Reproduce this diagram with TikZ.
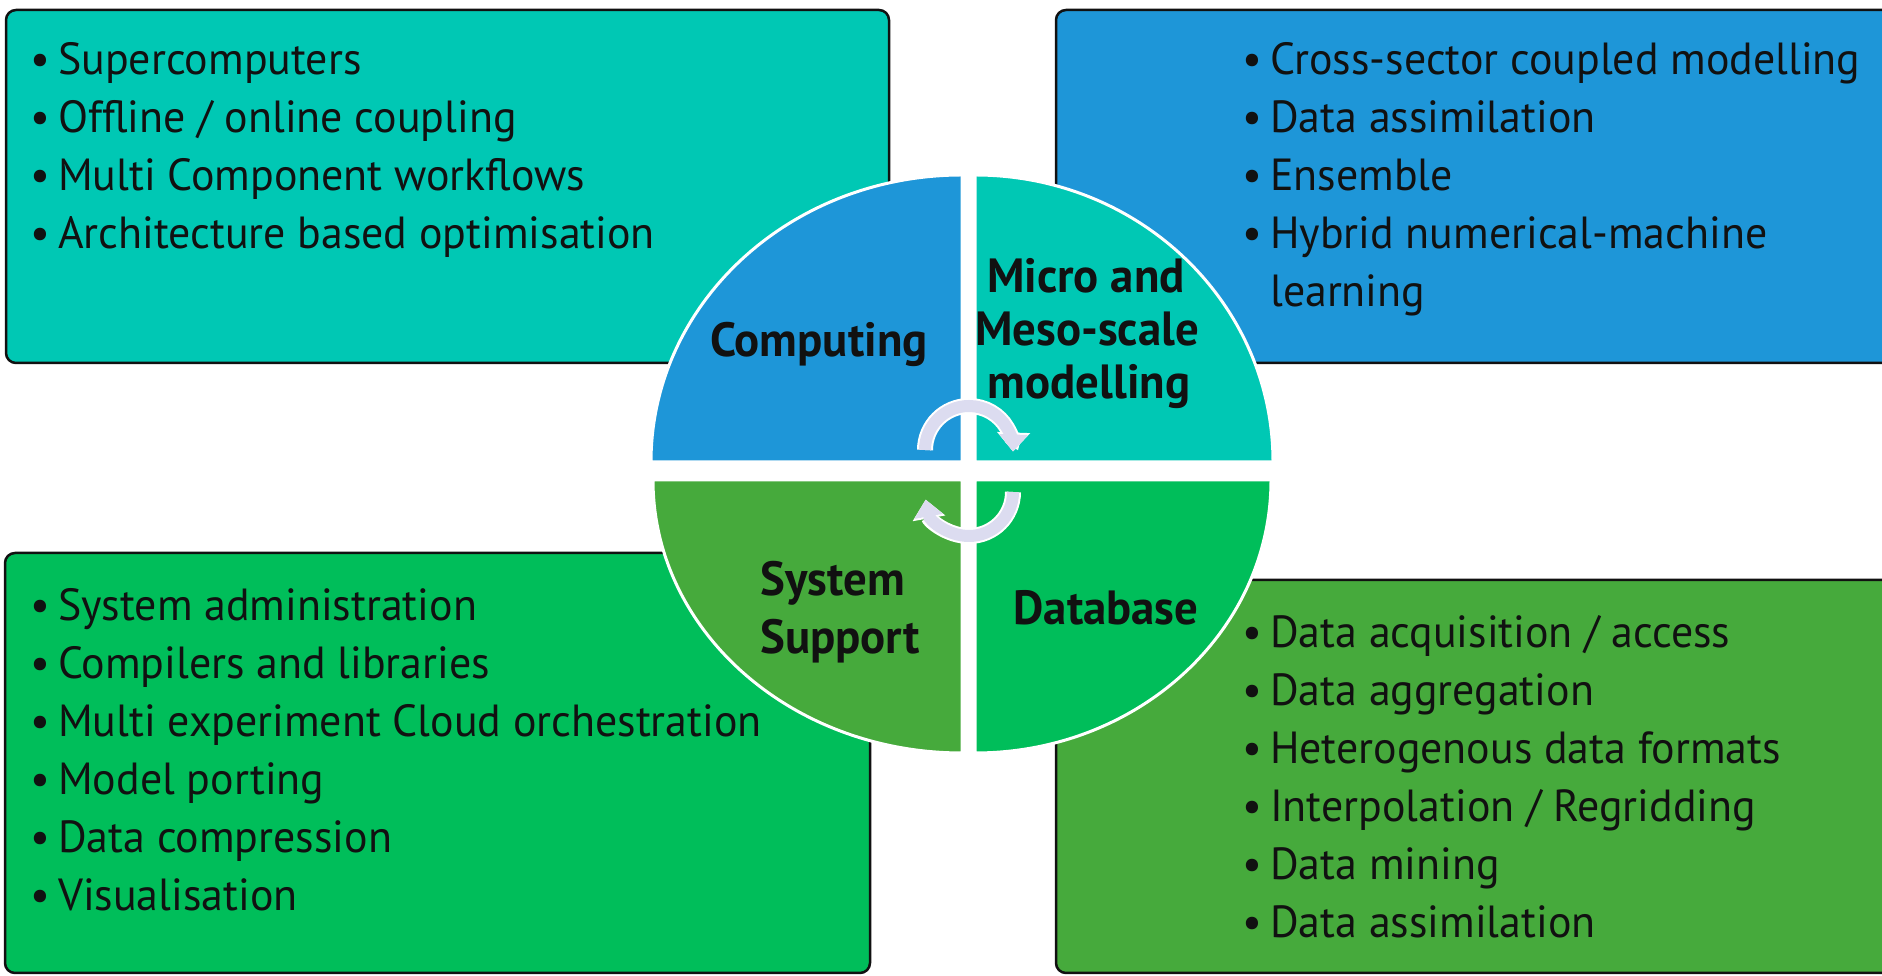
\documentclass[tikz,border=0pt]{standalone}
\usepackage{fontspec}
\setmainfont{PT Sans}[FakeStretch=0.975]
\usetikzlibrary{arrows.meta}

\definecolor{tealfill}{HTML}{00C8B4}
\definecolor{bluefill}{HTML}{1E96D8}
\definecolor{greenbright}{HTML}{00BE5A}
\definecolor{greenleaf}{HTML}{46AA3C}
\definecolor{ink}{HTML}{111111}
\definecolor{cyclecol}{HTML}{DCDCF0}

\newcommand{\itembul}{\makebox[28pt][l]{•}}

\tikzset{
  panel/.style={draw=ink, line width=2.5pt, rounded corners=10pt},
  item/.style={anchor=base west, inner sep=0pt, text=ink,
               font=\fontsize{45}{58}\selectfont},
  quad/.style={draw=white, line width=3pt},
  qlabel/.style={inner sep=0pt, text=ink, font=\bfseries\fontsize{48}{53}\selectfont},
  turn/.style={line width=12pt, draw=cyclecol, line cap=butt,
               -{Triangle[width=28pt,length=17pt]},
               preaction={draw=white, line width=16pt, -{Triangle[width=32pt,length=19pt]}}}
}

\begin{document}
\begin{tikzpicture}[x=1pt,y=1pt]
\clip (0,0) rectangle (1882,976);
\fill[white] (0,0) rectangle (1882,976);

% four panels
\draw[panel, fill=tealfill]    (6,613)    rectangle (889,966);
\draw[panel, fill=bluefill]    (1056,613) rectangle (1900,966);
\draw[panel, fill=greenbright] (5,3)      rectangle (870,423);
\draw[panel, fill=greenleaf]   (1056,3)   rectangle (1900,396);

% computing panel
\node[item] (c1) at (30,901) {\itembul Supercomputers};
\node[item] (c2) at (30,843) {\itembul Offline / online coupling};
\node[item] (c3) at (30,785) {\itembul Multi Component workflows};
\node[item] (c4) at (30,727) {\itembul Architecture based optimisation};

% modelling panel
\node[item] (m1) at (1242,901) {\itembul Cross-sector coupled modelling};
\node[item] (m2) at (1242,843) {\itembul Data assimilation};
\node[item] (m3) at (1242,785) {\itembul Ensemble};
\node[item] (m4) at (1242,727) {\itembul Hybrid numerical-machine};
\node[item] (m5) at (1270,669) {learning};

% system support panel
\node[item] (s1) at (30,355) {\itembul System administration};
\node[item] (s2) at (30,297) {\itembul Compilers and libraries};
\node[item] (s3) at (30,239) {\itembul Multi experiment Cloud orchestration};
\node[item] (s4) at (30,181) {\itembul Model porting};
\node[item] (s5) at (30,123) {\itembul Data compression};
\node[item] (s6) at (30,65)  {\itembul Visualisation};

% database panel
\node[item] (d1) at (1242,328) {\itembul Data acquisition / access};
\node[item] (d2) at (1242,270) {\itembul Data aggregation};
\node[item] (d3) at (1242,212) {\itembul Heterogenous data formats};
\node[item] (d4) at (1242,154) {\itembul Interpolation / Regridding};
\node[item] (d5) at (1242,96)  {\itembul Data mining};
\node[item] (d6) at (1242,38)  {\itembul Data assimilation};

% central disc in four quarters
\draw[quad, fill=bluefill]    (962,514) -- (651,514)
  arc[start angle=180, end angle=90, x radius=311, y radius=287] -- cycle;
\draw[quad, fill=tealfill]    (975,514) -- (975,801)
  arc[start angle=90, end angle=0, x radius=298, y radius=287] -- cycle;
\draw[quad, fill=greenleaf]   (962,496) -- (653,496)
  arc[start angle=180, end angle=270, x radius=309, y radius=273] -- cycle;
\draw[quad, fill=greenbright] (975,496) -- (1271,496)
  arc[start angle=0, end angle=-90, x radius=296, y radius=273] -- cycle;

% quarter labels
\node[qlabel, anchor=base] (lc) at (819,619) {Computing};
\node[qlabel, anchor=base] (lm1) at (1086,683) {Micro and};
\node[qlabel, anchor=base] (lm2) at (1087,630) {Meso-scale};
\node[qlabel, anchor=base] (lm3) at (1089,577) {modelling};
\node[qlabel, anchor=base west] (ls1) at (760,380) {System};
\node[qlabel, anchor=base west] (ls2) at (760,322) {Support};
\node[qlabel, anchor=base] (ld) at (1106,351) {Database};

% cycle arrows at the centre
\draw[turn] (925,526) arc[start angle=180, end angle=-2, radius=44];
\draw[turn] (1013,484) arc[start angle=0, end angle=-170, radius=44];
\end{tikzpicture}
\end{document}
